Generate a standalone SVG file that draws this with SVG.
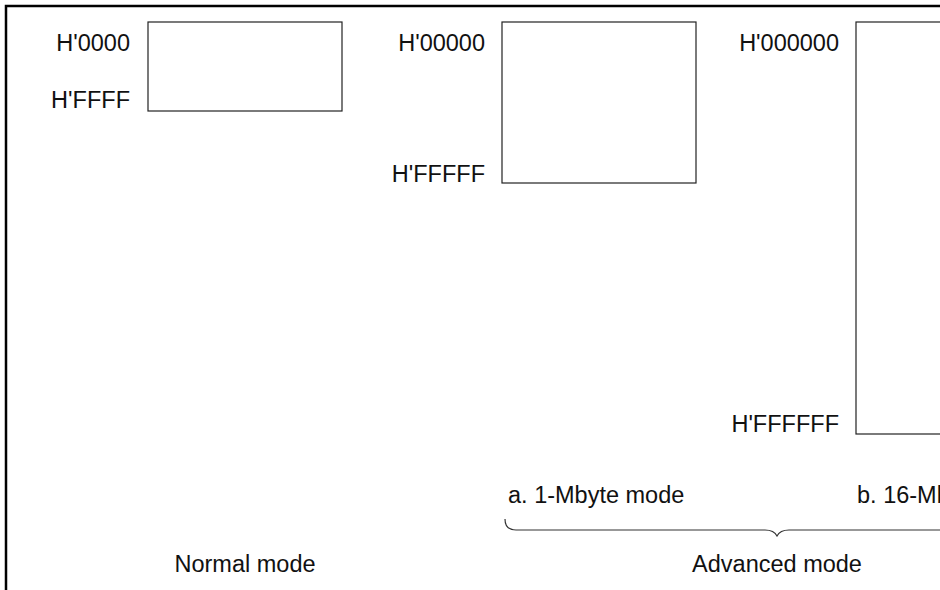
<svg xmlns="http://www.w3.org/2000/svg" width="940" height="590" viewBox="0 0 940 590">
<style>
text{font-family:"Liberation Sans",Arial,sans-serif;font-size:23.5px;fill:#111}
.r{text-anchor:end}
.c{text-anchor:middle}
.box{fill:#fff;stroke:#222;stroke-width:1.2}
.frame{fill:none;stroke:#000;stroke-width:2.5}
.brace{fill:none;stroke:#333;stroke-width:1.2}
</style>
<rect width="940" height="590" fill="#fff"/>
<path class="frame" d="M6,590 V6 H940"/>
<g id="normal">
<rect class="box" x="148" y="22" width="194" height="89"/>
<text class="r" x="130" y="51">H'0000</text>
<text class="r" x="130" y="108">H'FFFF</text>
</g>
<g id="mode1M">
<rect class="box" x="502" y="22" width="194" height="161"/>
<text class="r" x="485" y="51">H'00000</text>
<text class="r" x="485" y="182">H'FFFFF</text>
<text x="508" y="503">a. 1-Mbyte mode</text>
</g>
<g id="mode16M">
<rect class="box" x="856" y="22" width="200" height="412"/>
<text class="r" x="839" y="51">H'000000</text>
<text class="r" x="839" y="432">H'FFFFFF</text>
<text x="857" y="503">b. 16-Mbyte mode</text>
</g>
<g id="connectors">
<path class="brace" d="M505,519 Q505,530 516,530 H765 Q774,530 777,536 Q780,530 789,530 H940"/>
</g>
<g id="labels">
<text class="c" x="245" y="572">Normal mode</text>
<text class="c" x="777" y="572">Advanced mode</text>
</g>
</svg>
